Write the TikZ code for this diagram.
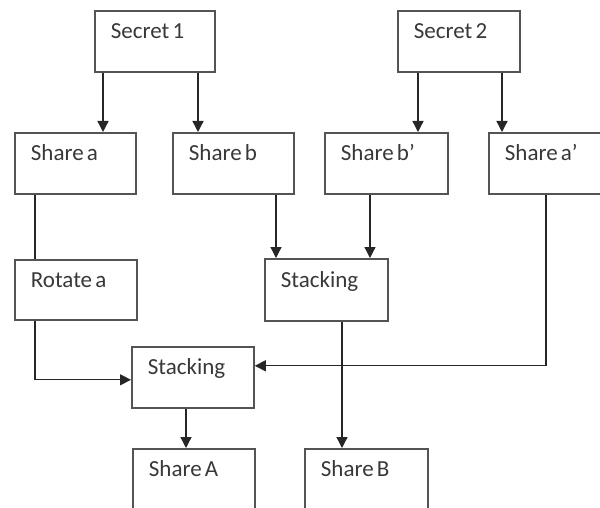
\documentclass[tikz,border=0pt]{standalone}
\usepackage{fontspec}
\setmainfont{Carlito}
\usetikzlibrary{arrows.meta}
\definecolor{boxline}{gray}{0.33}
\definecolor{conline}{gray}{0.15}
\definecolor{txt}{gray}{0.22}
\newcommand\myboxfont{\fontsize{23}{26}\selectfont}
\newcommand\mytightspace{\spaceskip=0.14em\relax}
\tikzset{
  box/.style={draw=boxline, line width=1.8pt, rectangle, anchor=north west,
    minimum width=#1, minimum height=61pt, inner xsep=16pt, inner ysep=0pt,
    text width=#1-32pt, align=left, text height=16pt, text depth=21pt,
    font=\myboxfont, text=txt, execute at begin node=\mytightspace},
  box/.default=122pt,
  con/.style={draw=conline, line width=1.3pt},
  arr/.style={con, -{Triangle[length=11pt,width=11pt]}}
}
\begin{document}
\begin{tikzpicture}[x=1pt,y=-1pt]
\useasboundingbox (0,0) rectangle (600,508);
\clip (0,0) rectangle (600,508);
\node[box=120pt] (s1) at (94,10) {Secret 1};
\node[box] (s2) at (397,10) {Secret 2};
\node[box=121pt] (sa) at (14,132) {Share a};
\node[box=121pt] (sb) at (172,132) {Share b};
\node[box=123pt] (sbp) at (324,132) {Share b’};
\node[box=124pt] (sap) at (488,132) {Share a’};
\node[box, minimum height=60pt] (rot) at (14,259) {Rotate a};
\node[box=123pt, minimum height=62pt] (st1) at (264,258) {Stacking};
\node[box] (st2) at (131,346) {Stacking};
\node[box] (shA) at (132,448) {Share A};
\node[box=123pt] (shB) at (304,448) {Share B};
% Secret 1 -> shares
\draw[arr] (s1.south west) ++(9,0) coordinate (p1) -- (p1 |- sa.north);
\draw[arr] (s1.south west) ++(104,0) coordinate (p2) -- (p2 |- sb.north);
% Secret 2 -> shares
\draw[arr] (s2.south west) ++(21,0) coordinate (p3) -- (p3 |- sbp.north);
\draw[arr] (s2.south west) ++(105,0) coordinate (p4) -- (p4 |- sap.north);
% Share a -- Rotate a
\draw[con] (sa.south west) ++(21,0) coordinate (p5) -- (p5 |- rot.north);
% Share b, Share b' -> Stacking
\draw[arr] (sb.south west) ++(104,0) coordinate (p6) -- (p6 |- st1.north);
\draw[arr] (sbp.south west) ++(46,0) coordinate (p7) -- (p7 |- st1.north);
% Rotate a -> lower Stacking
\draw[arr] (rot.south west) ++(21,0) coordinate (p8) -- ++(0,59) coordinate (p9) -- (p9 -| st2.west);
% Share a' -> lower Stacking
\draw[arr] (sap.south west) ++(58,0) coordinate (p10) -- ++(0,171) coordinate (p11) -- (p11 -| st2.east);
% lower Stacking -> Share A
\draw[arr] (st2.south west) ++(55,0) coordinate (p12) -- (p12 |- shA.north);
% upper Stacking -> Share B
\draw[arr] (st1.south west) ++(78,0) coordinate (p13) -- (p13 |- shB.north);
\end{tikzpicture}
\end{document}
